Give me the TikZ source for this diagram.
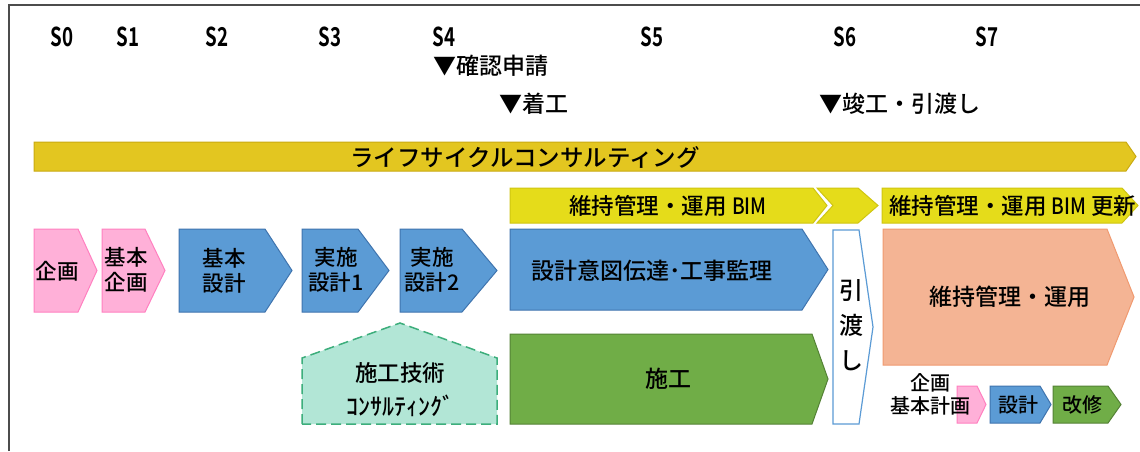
\documentclass[tikz,border=0pt]{standalone}
\usepackage{fontspec}
\setmainfont{Noto Sans CJK JP Medium}
\newfontfamily\stfont[FakeStretch=0.72]{Noto Sans CJK JP Bold}
\newfontfamily\bimfont[FakeStretch=0.85]{Noto Sans CJK JP Medium}
\definecolor{gold}{HTML}{E3C620}
\definecolor{goldb}{HTML}{C9AA12}
\definecolor{lyel}{HTML}{E5DC1A}
\definecolor{lyelb}{HTML}{CFC511}
\definecolor{pinkf}{HTML}{FFB0D8}
\definecolor{pinkb}{HTML}{FF80C0}
\definecolor{bluef}{HTML}{5B9BD5}
\definecolor{blueb}{HTML}{3F74AE}
\definecolor{greenf}{HTML}{70AD47}
\definecolor{greenb}{HTML}{548235}
\definecolor{salf}{HTML}{F4B494}
\definecolor{salb}{HTML}{F09A70}
\definecolor{mintf}{HTML}{B2E6D6}
\definecolor{mintb}{HTML}{3DAE7C}
\newcommand\pentshape[6]{\draw[#1] (#2,#5) -- (#3,#5) -- (#4,{(#5+#6)/2}) -- (#3,#6) -- (#2,#6) -- cycle;}
\begin{document}
\begin{tikzpicture}[x=1pt,y=-1pt,
  txt/.style={inner sep=0pt,align=center,text=black},
  pinkshape/.style={fill=pinkf,draw=pinkb,line width=1pt},
  blueshape/.style={fill=bluef,draw=blueb,line width=1pt},
  greenshape/.style={fill=greenf,draw=greenb,line width=1pt},
  yelshape/.style={fill=lyel,draw=lyelb,line width=1pt},
  goldshape/.style={fill=gold,draw=goldb,line width=1pt},
  salshape/.style={fill=salf,draw=salb,line width=1pt},
  stlabel/.style={txt,font=\stfont\fontsize{26}{26}\selectfont},
  ms/.style={txt,anchor=west,font=\fontsize{23}{23}\selectfont},
  big/.style={txt,font=\fontsize{23}{28}\selectfont},
  mid/.style={txt,font=\fontsize{21.5}{25}\selectfont}
]
\useasboundingbox (0,0) rectangle (1140,451);
\clip (0,0) rectangle (1140,451);
\fill[white] (0,0) rectangle (1140,451);
% frame
\draw[line width=1.5pt,draw=black!70] (9,451) -- (9,5) -- (1140,5);
% stage labels
\node[stlabel] (s0) at (62,37) {S0};
\node[stlabel] (s1) at (128,37) {S1};
\node[stlabel] (s2) at (217,37) {S2};
\node[stlabel] (s3) at (330,37) {S3};
\node[stlabel] (s4) at (444,37) {S4};
\node[stlabel] (s5) at (652,37) {S5};
\node[stlabel] (s6) at (845,37) {S6};
\node[stlabel] (s7) at (987,37) {S7};
% milestones
\node[ms] (m1) at (433,66) {▼確認申請};
\node[ms] (m2) at (499,104) {▼着工};
\node[ms] (m3) at (819,104) {▼竣工・引渡し};
% lifecycle arrow
\pentshape{goldshape}{34}{1126}{1136}{142}{171}
\node[txt,font=\fontsize{23.5}{23.5}\selectfont] (lc) at (525,157) {ライフサイクルコンサルティング};
% yellow chevrons
\pentshape{yelshape}{510}{813}{827}{188}{223}
\draw[yelshape] (817,188) -- (858,188) -- (878,205.5) -- (858,223) -- (817,223) -- (833,205.5) -- cycle;
\pentshape{yelshape}{882}{1122}{1138}{188}{223}
\node[txt,font=\fontsize{22.5}{22.5}\selectfont] (y1) at (668,206) {維持管理・運用 {\bimfont BIM}};
\node[txt,anchor=west,font=\fontsize{22.5}{22.5}\selectfont] (y2) at (889,206) {維持管理・運用 {\bimfont BIM} 更新};
% top row
\pentshape{pinkshape}{34}{78}{97}{229}{312}
\node[mid] (p1) at (57,271) {企画};
\pentshape{pinkshape}{102}{145}{165}{229}{312}
\node[mid] (p2) at (126,270) {基本\\企画};
\pentshape{blueshape}{179}{265}{292}{229}{312}
\node[mid] (b1) at (224,271) {基本\\設計};
\pentshape{blueshape}{302}{358}{389}{229}{312}
\node[mid] (b2) at (336,270) {実施\\設計1};
\pentshape{blueshape}{400}{462}{497}{229}{312}
\node[mid] (b3) at (432,270) {実施\\設計2};
\pentshape{blueshape}{510}{802}{828}{229}{310}
\node[big] (b4) at (652,271) {設計意図伝達･工事監理};
% construction
\pentshape{greenshape}{510}{812}{828}{334}{424}
\node[big] (g1) at (668,379) {施工};
% handover
\draw[fill=white,draw=bluef,line width=1.2pt] (833,230) -- (859,230) -- (873,327) -- (859,424) -- (833,424) -- cycle;
\node[txt,font=\fontsize{24}{35}\selectfont] (h1) at (851,325) {引\\渡\\し};
% operation
\pentshape{salshape}{883}{1107}{1134}{229}{365}
\node[txt,font=\fontsize{23}{23}\selectfont] (o1) at (1010,297) {維持管理・運用};
% consulting pentagon
\draw[fill=mintf,draw=mintb,line width=1.5pt,dash pattern=on 10pt off 5pt] (302,424) -- (302,358) -- (400,323) -- (497,358) -- (497,424) -- cycle;
\node[txt,font=\fontsize{22.5}{22.5}\selectfont] (c1) at (400,373) {施工技術};
\node[txt,font=\fontsize{24}{24}\selectfont] (c2) at (400,406) {ｺﾝｻﾙﾃｨﾝｸﾞ};
% small row
\pentshape{pinkshape}{957}{977}{986}{386}{423}
\pentshape{blueshape}{990}{1040}{1051}{386}{423}
\pentshape{greenshape}{1053}{1108}{1121}{386}{423}
\node[txt,font=\fontsize{20}{23}\selectfont] (k1) at (930,394) {企画\\基本計画};
\node[txt,font=\fontsize{20}{20}\selectfont] (k2) at (1018,405) {設計};
\node[txt,font=\fontsize{20}{20}\selectfont] (k3) at (1082,405) {改修};
\end{tikzpicture}
\end{document}
